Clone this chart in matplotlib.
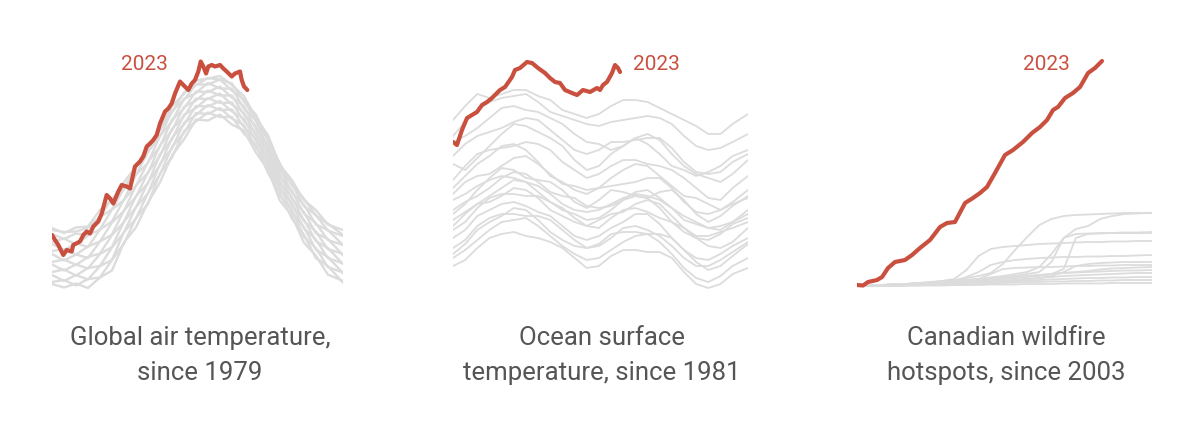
import matplotlib
matplotlib.use("Agg")
import matplotlib.pyplot as plt
import numpy as np

plt.rcParams['font.family'] = ['Roboto', 'DejaVu Sans']

RED = '#c9503f'
GRAY = '#dcdcdc'
TEXT = '#555555'

# ---------------- common day grid for past years ----------------
DAYS = [1, 16, 31, 46, 61, 76, 91, 106, 121, 136, 151, 166, 181,
        196, 211, 226, 241, 256, 271, 286, 301, 316, 331, 346, 365]

# ---------------- Panel 1: global air temperature (deg C) ----------------
air_2023_days = [1, 4.8, 8.9, 15.1, 19.4, 25.6, 27.6, 36.0, 40.2, 44.4, 48.5, 52.7,
                 58.9, 63.2, 69.4, 73.6, 77.7, 84.0, 88.2, 94.4, 98.6, 104.8, 111.1,
                 115.2, 119.5, 123.6, 127.7, 132.0, 136.1, 142.4, 146.5, 150.7, 154.9,
                 161.1, 165.3, 171.5, 175.8, 179.9, 184.0, 187.0, 190.3, 193.7, 196.5,
                 200.8, 204.9, 211.2, 215.3, 219.5, 225.8, 229.9, 236.2, 238.3, 241.2, 245.3]
air_2023 = [13.10, 13.00, 12.90, 12.70, 12.80, 12.77, 12.90, 12.97, 13.10, 13.17, 13.13, 13.27,
            13.37, 13.53, 13.90, 13.83, 13.73, 13.97, 14.10, 14.07, 14.03, 14.47, 14.57,
            14.67, 14.87, 14.93, 15.00, 15.10, 15.33, 15.57, 15.63, 15.73, 15.93,
            16.17, 16.10, 16.00, 16.13, 16.20, 16.37, 16.57, 16.47, 16.33, 16.47,
            16.50, 16.47, 16.50, 16.43, 16.37, 16.27, 16.33, 16.37, 16.20, 16.07, 16.00]

air_past = [
    [13.24, 13.14, 13.25, 13.27, 13.60, 13.80, 14.16, 14.46, 14.88, 15.20, 15.68, 15.92, 16.19, 16.23, 16.28, 16.10, 15.88, 15.45, 15.10, 14.50, 14.20, 13.80, 13.60, 13.31, 13.20],
    [13.20, 13.16, 13.17, 13.24, 13.47, 13.83, 14.02, 14.49, 14.77, 15.23, 15.55, 15.95, 16.10, 16.24, 16.21, 16.13, 15.77, 15.51, 14.99, 14.53, 14.09, 13.83, 13.49, 13.33, 13.10],
    [13.12, 13.02, 13.13, 13.10, 13.46, 13.61, 14.03, 14.30, 14.76, 15.07, 15.58, 15.80, 16.11, 16.11, 16.21, 15.99, 15.81, 15.37, 15.03, 14.40, 14.12, 13.68, 13.50, 13.19, 13.08],
    [12.96, 13.03, 12.91, 13.09, 13.21, 13.61, 13.80, 14.31, 14.54, 15.08, 15.37, 15.82, 15.94, 16.14, 16.03, 16.03, 15.63, 15.40, 14.85, 14.44, 13.95, 13.71, 13.31, 13.20, 12.90],
    [12.92, 12.80, 12.93, 12.86, 13.21, 13.37, 13.81, 14.08, 14.56, 14.87, 15.40, 15.63, 15.97, 15.96, 16.07, 15.85, 15.68, 15.23, 14.90, 14.27, 13.99, 13.53, 13.34, 13.00, 12.90],
    [12.78, 12.82, 12.71, 12.87, 12.97, 13.35, 13.58, 14.09, 14.34, 14.89, 15.19, 15.66, 15.79, 15.99, 15.89, 15.89, 15.51, 15.28, 14.73, 14.32, 13.82, 13.56, 13.14, 13.02, 12.70],
    [12.72, 12.59, 12.71, 12.64, 12.97, 13.11, 13.59, 13.86, 14.35, 14.68, 15.22, 15.47, 15.83, 15.82, 15.93, 15.71, 15.55, 15.10, 14.77, 14.14, 13.86, 13.38, 13.17, 12.82, 12.72],
    [12.56, 12.61, 12.50, 12.66, 12.73, 13.10, 13.36, 13.88, 14.13, 14.71, 15.01, 15.50, 15.64, 15.84, 15.74, 15.75, 15.38, 15.15, 14.60, 14.19, 13.69, 13.41, 12.98, 12.84, 12.52],
    [12.51, 12.39, 12.51, 12.43, 12.72, 12.86, 13.37, 13.65, 14.15, 14.49, 15.04, 15.31, 15.68, 15.67, 15.78, 15.57, 15.43, 14.98, 14.65, 14.02, 13.74, 13.23, 13.01, 12.64, 12.53],
    [12.36, 12.41, 12.29, 12.44, 12.48, 12.85, 13.15, 13.66, 13.93, 14.52, 14.83, 15.34, 15.50, 15.70, 15.60, 15.61, 15.26, 15.03, 14.48, 14.07, 13.56, 13.26, 12.81, 12.66, 12.34],
    [12.30, 12.18, 12.30, 12.21, 12.48, 12.60, 13.16, 13.43, 13.94, 14.31, 14.86, 15.14, 15.54, 15.52, 15.64, 15.43, 15.30, 14.85, 14.52, 13.89, 13.61, 13.07, 12.84, 12.46, 12.35],
    [12.16, 12.20, 12.09, 12.22, 12.25, 12.60, 12.93, 13.44, 13.72, 14.33, 14.65, 15.17, 15.37, 15.55, 15.46, 15.46, 15.13, 14.90, 14.35, 13.94, 13.43, 13.11, 12.64, 12.48, 12.15],
    [12.12, 12.05, 12.13, 12.04, 12.25, 12.39, 12.95, 13.25, 13.75, 14.15, 14.69, 15.01, 15.41, 15.39, 15.51, 15.31, 15.19, 14.75, 14.41, 13.79, 13.49, 12.95, 12.69, 12.31, 12.18],
]

# ---------------- Panel 2: ocean surface temperature (deg C) ----------------
sst_2023_days = [1, 5.9, 12.1, 18.3, 24.4, 30.6, 36.8, 43.0, 49.1, 59.0, 65.2, 73.8, 77.5,
                 83.7, 92.3, 98.5, 105.9, 114.5, 120.7, 126.9, 133.0, 139.2, 147.8, 154.0,
                 161.4, 170.1, 178.7, 182.4, 186.1, 191.0, 197.2, 200.9, 204.6, 207.1]
sst_2023 = [20.64, 20.625, 20.70, 20.76, 20.775, 20.79, 20.825, 20.84, 20.86, 20.90, 20.915,
            20.965, 21.00, 21.01, 21.04, 21.035, 21.01, 20.985, 20.96, 20.94, 20.935, 20.90,
            20.885, 20.875, 20.90, 20.89, 20.91, 20.90, 20.925, 20.94, 20.985, 21.025, 21.01, 20.99]

sst_past = [
    [20.75, 20.82, 20.88, 20.86, 20.88, 20.90, 20.90, 20.87, 20.85, 20.80, 20.78, 20.76, 20.78, 20.82, 20.85, 20.85, 20.84, 20.81, 20.78, 20.75, 20.72, 20.68, 20.68, 20.73, 20.78],
    [20.67, 20.74, 20.80, 20.84, 20.86, 20.87, 20.88, 20.84, 20.79, 20.77, 20.75, 20.73, 20.72, 20.74, 20.75, 20.76, 20.77, 20.76, 20.73, 20.67, 20.62, 20.60, 20.61, 20.64, 20.68],
    [20.64, 20.67, 20.71, 20.76, 20.81, 20.82, 20.80, 20.79, 20.76, 20.73, 20.68, 20.64, 20.63, 20.60, 20.62, 20.66, 20.63, 20.58, 20.52, 20.50, 20.47, 20.49, 20.52, 20.57, 20.60],
    [20.57, 20.63, 20.67, 20.69, 20.71, 20.74, 20.76, 20.75, 20.70, 20.65, 20.60, 20.58, 20.60, 20.64, 20.64, 20.65, 20.66, 20.66, 20.61, 20.54, 20.49, 20.48, 20.49, 20.54, 20.58],
    [20.53, 20.50, 20.56, 20.62, 20.68, 20.73, 20.72, 20.69, 20.66, 20.62, 20.55, 20.50, 20.52, 20.58, 20.62, 20.66, 20.68, 20.65, 20.58, 20.52, 20.48, 20.46, 20.44, 20.48, 20.55],
    [20.45, 20.52, 20.58, 20.60, 20.61, 20.62, 20.64, 20.63, 20.60, 20.54, 20.50, 20.46, 20.48, 20.52, 20.55, 20.55, 20.53, 20.52, 20.50, 20.46, 20.41, 20.36, 20.35, 20.41, 20.47],
    [20.41, 20.47, 20.53, 20.57, 20.62, 20.63, 20.60, 20.54, 20.47, 20.44, 20.40, 20.38, 20.41, 20.46, 20.50, 20.53, 20.52, 20.47, 20.42, 20.37, 20.36, 20.33, 20.30, 20.34, 20.40],
    [20.38, 20.44, 20.47, 20.48, 20.52, 20.56, 20.57, 20.53, 20.48, 20.43, 20.42, 20.40, 20.41, 20.42, 20.43, 20.44, 20.46, 20.46, 20.41, 20.34, 20.29, 20.28, 20.30, 20.33, 20.36],
    [20.35, 20.38, 20.42, 20.45, 20.47, 20.46, 20.44, 20.42, 20.38, 20.33, 20.30, 20.29, 20.30, 20.33, 20.36, 20.38, 20.37, 20.35, 20.31, 20.27, 20.24, 20.21, 20.20, 20.24, 20.30],
    [20.28, 20.33, 20.40, 20.46, 20.51, 20.50, 20.46, 20.45, 20.44, 20.40, 20.34, 20.31, 20.35, 20.40, 20.39, 20.37, 20.36, 20.39, 20.40, 20.35, 20.28, 20.24, 20.27, 20.32, 20.37],
    [20.30, 20.34, 20.37, 20.41, 20.46, 20.49, 20.48, 20.44, 20.39, 20.37, 20.36, 20.32, 20.31, 20.32, 20.35, 20.39, 20.40, 20.36, 20.31, 20.25, 20.23, 20.21, 20.22, 20.24, 20.28],
    [20.25, 20.29, 20.33, 20.37, 20.41, 20.45, 20.44, 20.39, 20.34, 20.30, 20.28, 20.25, 20.26, 20.30, 20.35, 20.37, 20.36, 20.31, 20.24, 20.19, 20.16, 20.15, 20.18, 20.23, 20.26],
    [20.22, 20.28, 20.33, 20.34, 20.37, 20.41, 20.40, 20.36, 20.30, 20.27, 20.24, 20.22, 20.25, 20.28, 20.29, 20.33, 20.35, 20.33, 20.27, 20.21, 20.17, 20.17, 20.19, 20.21, 20.24],
    [20.20, 20.24, 20.31, 20.36, 20.38, 20.38, 20.37, 20.37, 20.34, 20.31, 20.26, 20.22, 20.21, 20.26, 20.30, 20.31, 20.29, 20.26, 20.24, 20.21, 20.16, 20.12, 20.11, 20.14, 20.21],
    [20.16, 20.20, 20.27, 20.30, 20.33, 20.34, 20.32, 20.29, 20.27, 20.22, 20.17, 20.15, 20.17, 20.21, 20.24, 20.28, 20.28, 20.23, 20.16, 20.10, 20.06, 20.05, 20.08, 20.12, 20.16],
    [20.11, 20.15, 20.22, 20.26, 20.28, 20.28, 20.27, 20.27, 20.25, 20.20, 20.15, 20.11, 20.13, 20.18, 20.19, 20.19, 20.18, 20.18, 20.16, 20.10, 20.04, 20.00, 20.02, 20.07, 20.13],
    [20.08, 20.13, 20.20, 20.24, 20.27, 20.31, 20.30, 20.25, 20.19, 20.15, 20.12, 20.11, 20.12, 20.16, 20.21, 20.22, 20.20, 20.17, 20.12, 20.06, 20.02, 20.02, 20.05, 20.09, 20.14],
    [20.06, 20.10, 20.15, 20.20, 20.24, 20.25, 20.26, 20.22, 20.17, 20.12, 20.08, 20.05, 20.06, 20.10, 20.14, 20.17, 20.18, 20.14, 20.08, 20.01, 19.96, 19.94, 19.97, 20.02, 20.06],
    [20.02, 20.05, 20.11, 20.16, 20.18, 20.19, 20.17, 20.16, 20.14, 20.11, 20.06, 20.01, 20.02, 20.07, 20.10, 20.10, 20.09, 20.09, 20.06, 19.99, 19.93, 19.91, 19.93, 19.98, 20.01],
]

# ---------------- Panel 3: cumulative Canadian wildfire hotspots (thousands) ----------------
fire_2023_days = [1, 8.4, 14.6, 25.7, 31.9, 39.3, 47.9, 60.2, 68.9, 78.7, 91.1, 103.4, 112.1,
                  121.9, 134.3, 144.1, 152.8, 161.4, 171.3, 183.6, 193.5, 205.8, 217.0, 226.8,
                  235.5, 242.9, 249.0, 257.7, 267.5, 276.2, 286.1, 294.7, 303.3]
fire_2023 = [2, 1, 8, 12, 18, 36, 48, 52, 62, 76, 92, 118, 126, 128, 166, 176, 186, 198, 226,
             262, 272, 288, 306, 318, 332, 352, 358, 376, 386, 398, 426, 436, 450]

fire_past = [
    [0, 1, 2, 3, 4, 6, 8, 10, 12, 16, 20, 26, 44, 72, 98, 122, 134, 140, 142, 143, 144, 145, 146, 146, 146],
    [0, 0, 1, 2, 3, 4, 6, 8, 10, 12, 14, 16, 18, 20, 24, 28, 48, 96, 114, 120, 134, 140, 144, 145, 146],
    [0, 1, 2, 3, 4, 5, 7, 10, 14, 32, 60, 74, 78, 80, 82, 84, 85, 86, 87, 88, 88, 89, 89, 90, 90],
    [0, 0, 1, 1, 2, 3, 4, 5, 6, 8, 10, 12, 14, 16, 18, 20, 24, 34, 96, 104, 106, 106, 107, 107, 108],
    [0, 1, 2, 3, 4, 5, 6, 8, 10, 12, 14, 17, 20, 24, 28, 38, 64, 96, 104, 105, 105, 106, 106, 106, 106],
    [0, 1, 2, 3, 4, 5, 6, 8, 10, 18, 28, 42, 48, 52, 54, 56, 57, 58, 58, 59, 59, 60, 60, 61, 62],
    [0, 0, 1, 1, 2, 2, 3, 4, 5, 6, 7, 8, 10, 12, 14, 16, 20, 28, 40, 44, 46, 47, 48, 48, 48],
    [0, 1, 2, 3, 4, 5, 6, 7, 8, 10, 14, 24, 34, 36, 37, 38, 38, 39, 40, 40, 41, 41, 42, 42, 42],
    [0, 0, 1, 2, 3, 4, 5, 6, 8, 10, 12, 14, 16, 18, 20, 22, 24, 26, 28, 30, 33, 35, 36, 37, 38],
    [0, 1, 2, 3, 4, 5, 6, 7, 8, 9, 10, 12, 14, 16, 20, 22, 24, 26, 27, 28, 29, 30, 31, 31, 32],
    [0, 0, 1, 1, 2, 3, 4, 5, 6, 7, 8, 9, 10, 12, 14, 16, 18, 20, 21, 22, 23, 24, 25, 26, 26],
    [0, 0, 0, 1, 1, 2, 3, 4, 5, 6, 7, 8, 9, 10, 11, 12, 13, 14, 15, 16, 16, 17, 17, 18, 18],
    [0, 0, 0, 1, 1, 1, 2, 2, 3, 3, 4, 5, 6, 7, 8, 8, 9, 9, 10, 10, 11, 11, 12, 12, 12],
    [0, 0, 0, 0, 1, 1, 1, 1, 2, 2, 2, 3, 3, 3, 4, 4, 4, 5, 5, 5, 5, 6, 6, 6, 6],
]

titles = [("Global air temperature,", "since 1979"),
          ("Ocean surface", "temperature, since 1981"),
          ("Canadian wildfire", "hotspots, since 2003")]
label_2023 = "2023"

# ---------------- layout ----------------
W, H = 1200, 448
fig = plt.figure(figsize=(W / 100, H / 100), dpi=100)
fig.patch.set_facecolor('white')

def frac_rect(x0, y_top, x1, y_bot):
    return [x0 / W, 1 - y_bot / H, (x1 - x0) / W, (y_bot - y_top) / H]

ax1 = fig.add_axes(frac_rect(52, 55, 343, 295))
ax2 = fig.add_axes(frac_rect(453, 55, 748, 295))
ax3 = fig.add_axes(frac_rect(857, 55, 1152, 295))

for series in air_past:
    ax1.plot(DAYS, series, color=GRAY, lw=1.7, solid_joinstyle='round')
ax1.plot(air_2023_days, air_2023, color=RED, lw=3.0, solid_capstyle='round', solid_joinstyle='round')
ax1.set_ylim(11.9, 16.7)

for series in sst_past:
    ax2.plot(DAYS, series, color=GRAY, lw=1.3, solid_joinstyle='round')
ax2.plot(sst_2023_days, sst_2023, color=RED, lw=3.0, solid_capstyle='round', solid_joinstyle='round')
ax2.set_ylim(19.875, 21.075)

for series in fire_past:
    ax3.plot(DAYS, series, color=GRAY, lw=1.3, solid_joinstyle='round')
ax3.plot(fire_2023_days, fire_2023, color=RED, lw=3.0, solid_capstyle='round', solid_joinstyle='round')
ax3.set_ylim(-18, 462)

for ax in (ax1, ax2, ax3):
    ax.set_xlim(1, 365)
    ax.axis('off')

# "2023" labels
for (cx, cy) in [(144, 65), (656, 65), (1046, 65)]:
    fig.text(cx / W, 1 - cy / H, label_2023, color=RED, fontsize=15,
             ha='center', va='center')

# titles
for (cx, (l1, l2)) in zip([200, 602, 1006], titles):
    fig.text(cx / W, 1 - 345 / H, l1, color=TEXT, fontsize=18.5, ha='center', va='baseline')
    fig.text(cx / W, 1 - 380 / H, l2, color=TEXT, fontsize=18.5, ha='center', va='baseline')

fig.savefig('out.png', dpi=100, facecolor='white')
